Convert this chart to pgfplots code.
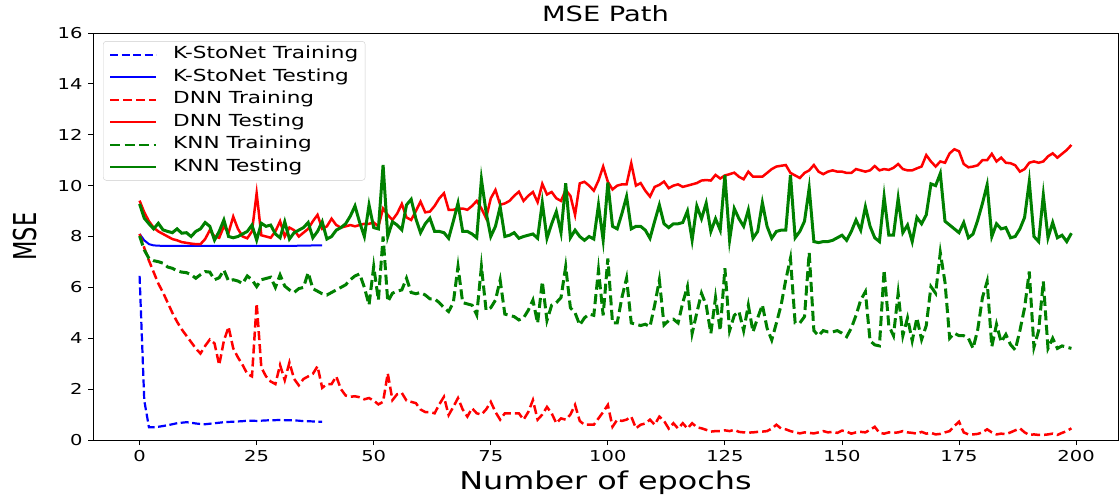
\documentclass[border=0pt]{standalone}
\usepackage{fontspec}
\setmainfont[FakeStretch=1.3]{DejaVu Sans}
\newfontfamily\plainfont{DejaVu Sans}
\usepackage{graphicx}
\usepackage{pgfplots}
\usepackage{pgfplotstable}
\pgfplotsset{compat=1.18}
\definecolor{mplgreen}{RGB}{0,128,0}

\pgfplotstableread{
ep ks kS
0 6.45 8.10
1 1.55 7.85
2 0.50 7.70
3 0.50 7.65
4 0.52 7.64
5 0.55 7.63
6 0.58 7.63
7 0.62 7.63
8 0.66 7.63
9 0.68 7.63
10 0.70 7.63
11 0.68 7.63
12 0.65 7.63
13 0.63 7.63
14 0.62 7.63
15 0.64 7.63
16 0.66 7.63
17 0.68 7.63
18 0.70 7.63
19 0.71 7.63
20 0.72 7.63
21 0.73 7.63
22 0.74 7.63
23 0.76 7.63
24 0.76 7.63
25 0.75 7.63
26 0.76 7.63
27 0.77 7.63
28 0.78 7.63
29 0.78 7.63
30 0.79 7.63
31 0.78 7.63
32 0.78 7.63
33 0.77 7.63
34 0.76 7.64
35 0.74 7.64
36 0.74 7.64
37 0.73 7.65
38 0.72 7.65
39 0.72 7.65
}\kstonet

\pgfplotstableread{
ep dt dT kt kT
0 8.10 9.41 8.02 9.28
1 7.55 8.95 7.47 8.72
2 7.05 8.60 7.14 8.50
3 6.60 8.35 7.05 8.30
4 6.15 8.20 7.01 8.52
5 5.80 8.10 6.95 8.26
6 5.40 8.00 6.80 8.20
7 5.00 7.90 6.75 8.15
8 4.65 7.85 6.65 8.30
9 4.35 7.78 6.60 8.13
10 4.10 7.75 6.58 8.15
11 3.85 7.72 6.50 8.00
12 3.60 7.70 6.36 8.20
13 3.40 7.70 6.50 8.30
14 3.70 7.90 6.62 8.55
15 3.95 8.25 6.60 8.40
16 3.80 8.00 6.30 7.86
17 2.95 7.95 6.38 8.20
18 3.90 8.40 6.68 8.65
19 4.45 8.15 6.25 8.00
20 3.60 8.78 6.30 7.95
21 3.25 8.30 6.25 8.00
22 2.95 8.00 6.15 8.10
23 2.60 7.93 6.45 8.20
24 2.50 8.20 6.30 8.45
25 5.37 9.70 6.03 7.86
26 2.85 8.05 6.30 8.52
27 2.50 8.00 6.35 8.40
28 2.30 7.95 6.40 8.45
29 2.20 8.20 6.00 8.10
30 2.95 8.60 6.49 7.95
31 2.35 8.00 6.05 8.58
32 3.05 8.35 5.90 7.90
33 2.40 8.25 5.80 8.15
34 2.15 8.00 5.95 8.25
35 2.40 8.15 6.00 8.35
36 2.50 8.30 6.58 8.55
37 2.60 8.60 5.95 7.95
38 2.90 8.85 5.85 8.20
39 2.05 8.30 5.75 8.58
40 2.20 8.40 5.70 7.90
41 2.20 8.70 5.80 8.00
42 2.50 8.45 5.90 8.25
43 2.00 8.35 6.00 8.35
44 1.75 8.40 6.10 8.50
45 1.70 8.45 6.30 8.80
46 1.72 8.40 6.45 9.20
47 1.68 8.45 6.53 8.55
48 1.60 8.50 6.00 8.00
49 1.65 8.50 5.31 9.24
50 1.55 8.55 6.82 8.35
51 1.40 8.40 5.50 8.30
52 1.50 9.10 8.00 10.81
53 2.62 8.85 5.44 8.00
54 1.57 8.65 5.77 8.58
55 1.80 8.90 5.85 8.45
56 1.85 9.28 5.90 8.26
57 1.55 8.75 6.36 9.24
58 1.50 8.65 5.80 9.46
59 1.45 9.00 5.75 8.70
60 1.20 9.37 5.80 8.15
61 1.10 8.95 5.70 8.50
62 1.10 8.98 5.55 8.72
63 1.05 9.20 5.55 8.20
64 1.40 9.50 5.40 8.20
65 1.70 9.70 5.20 8.15
66 0.98 9.05 5.05 7.93
67 1.30 9.05 5.40 8.60
68 1.65 9.10 6.82 9.31
69 1.20 9.10 5.40 8.20
70 0.92 9.05 5.35 8.20
71 1.25 9.20 5.30 8.10
72 1.05 9.40 4.92 7.95
73 1.00 9.10 6.82 10.25
74 1.20 8.72 5.10 8.95
75 1.50 9.50 5.20 8.00
76 1.10 9.83 5.50 8.40
77 0.80 9.25 6.29 9.17
78 1.05 9.30 4.95 8.00
79 1.05 9.40 4.90 8.05
80 1.05 9.60 4.85 8.15
81 1.05 9.76 4.72 7.93
82 0.80 9.40 4.80 8.00
83 1.10 9.60 5.10 8.05
84 1.57 9.75 5.50 8.10
85 0.80 9.35 4.59 7.93
86 1.00 10.07 6.23 9.33
87 1.30 9.65 4.70 7.93
88 1.05 9.75 5.30 8.50
89 0.66 9.50 5.40 8.98
90 0.85 9.40 5.60 8.15
91 0.80 9.83 6.82 10.09
92 1.00 9.60 5.20 7.95
93 1.38 8.85 5.00 8.25
94 0.75 10.09 4.52 8.00
95 0.60 10.15 4.80 7.85
96 0.60 10.00 4.95 8.00
97 0.60 9.80 4.90 7.90
98 0.85 10.20 6.68 9.24
99 1.10 10.75 4.90 7.86
100 1.38 10.15 7.14 10.12
101 0.52 9.85 4.60 8.40
102 0.80 10.00 4.60 8.30
103 0.75 10.05 5.60 8.90
104 0.80 10.05 6.36 9.57
105 0.92 10.88 4.60 8.30
106 0.46 10.00 4.55 8.40
107 0.60 10.10 4.50 8.40
108 0.65 9.80 4.55 8.25
109 0.80 9.57 4.46 7.93
110 0.60 9.95 5.30 8.60
111 0.92 10.03 6.29 9.24
112 0.75 10.16 4.52 8.50
113 0.45 9.90 4.70 8.35
114 0.66 10.00 4.75 8.50
115 0.45 10.05 4.60 8.50
116 0.66 9.95 5.40 8.55
117 0.45 10.00 6.03 9.00
118 0.66 10.05 4.19 7.86
119 0.50 10.10 5.00 9.20
120 0.46 10.20 5.77 8.70
121 0.40 10.22 5.30 9.31
122 0.33 10.20 4.19 8.20
123 0.35 10.42 5.60 8.70
124 0.35 10.28 4.30 8.25
125 0.38 10.40 6.75 10.42
126 0.35 10.45 4.30 7.86
127 0.40 10.51 4.90 9.10
128 0.32 10.35 5.05 8.70
129 0.30 10.25 4.30 8.40
130 0.29 10.55 5.30 9.04
131 0.30 10.35 4.25 7.93
132 0.32 10.35 4.80 8.20
133 0.33 10.35 5.31 9.33
134 0.35 10.50 4.40 8.40
135 0.45 10.65 3.93 7.93
136 0.60 10.75 4.60 8.20
137 0.45 10.78 5.30 8.25
138 0.42 10.81 6.30 8.25
139 0.35 10.50 7.14 10.42
140 0.30 10.40 4.60 7.95
141 0.26 10.30 4.60 8.20
142 0.30 10.50 4.85 8.60
143 0.28 10.60 7.37 9.90
144 0.26 10.81 4.30 7.80
145 0.30 10.55 4.10 7.76
146 0.35 10.45 4.30 7.80
147 0.30 10.55 4.25 7.80
148 0.32 10.60 4.25 7.85
149 0.28 10.55 4.30 7.95
150 0.37 10.55 4.20 8.05
151 0.33 10.50 4.06 7.85
152 0.25 10.50 4.40 8.20
153 0.30 10.65 4.90 8.65
154 0.32 10.60 5.50 8.25
155 0.30 10.55 5.83 9.17
156 0.40 10.60 3.90 8.40
157 0.52 10.77 3.74 7.95
158 0.28 10.60 3.70 7.80
159 0.25 10.65 6.68 9.57
160 0.30 10.62 4.50 8.05
161 0.28 10.70 4.10 8.05
162 0.30 10.85 5.77 9.50
163 0.35 10.65 4.10 8.15
164 0.30 10.60 4.80 8.45
165 0.28 10.60 3.90 7.80
166 0.25 10.68 4.80 8.75
167 0.32 10.75 3.95 8.50
168 0.25 11.20 4.50 8.85
169 0.28 10.95 6.03 10.07
170 0.22 10.75 5.77 10.00
171 0.24 10.95 7.37 10.48
172 0.30 10.90 6.20 8.60
173 0.35 11.27 4.00 8.45
174 0.55 11.43 4.20 8.30
175 0.72 11.35 4.10 8.15
176 0.30 10.85 4.10 8.55
177 0.22 10.72 4.00 7.95
178 0.22 10.75 3.60 8.10
179 0.24 10.80 4.35 8.65
180 0.30 11.00 5.60 9.30
181 0.42 11.00 6.23 10.03
182 0.30 11.25 3.67 8.00
183 0.22 10.95 4.55 8.50
184 0.25 11.10 3.85 8.30
185 0.23 10.90 4.15 8.35
186 0.30 10.88 3.75 7.95
187 0.38 10.80 3.54 8.00
188 0.46 10.55 4.30 8.30
189 0.30 10.65 5.20 8.75
190 0.20 10.90 6.62 10.16
191 0.22 10.95 3.65 8.00
192 0.20 10.90 4.30 7.80
193 0.20 10.95 6.23 9.63
194 0.22 11.15 3.60 7.95
195 0.25 11.27 4.00 8.55
196 0.20 11.10 3.60 7.95
197 0.28 11.25 3.70 8.05
198 0.35 11.40 3.65 7.80
199 0.46 11.60 3.60 8.13
}\others

\begin{document}
\begin{tikzpicture}
\begin{axis}[
  scale only axis,
  width=1025pt, height=407pt,
  xmin=-9.95, xmax=208.95, ymin=0, ymax=16,
  xtick={0,25,...,200}, ytick={0,2,...,16},
  tick pos=left, tick align=outside,
  major tick length=5pt,
  every tick/.style={black, line width=0.9pt},
  axis line style={line width=0.9pt},
  /pgf/number format/assume math mode=true,
  tick label style={font=\fontsize{15}{18}\selectfont},
  yticklabel style={xshift=-2pt},
  xticklabel style={yshift=-2pt},
  title={MSE Path},
  title style={font=\fontsize{21}{25}\selectfont, at={(axis description cs:0.5,1.032)}, anchor=center},
  xlabel={Number of epochs},
  xlabel style={font=\fontsize{24.5}{29}\selectfont, at={(axis description cs:0.5,-0.105)}, anchor=center},
  ylabel={\scalebox{1}[1.4]{\plainfont\fontsize{22.5}{26}\selectfont MSE}},
  ylabel style={at={(axis description cs:-0.066,0.5)}, anchor=center, rotate=0},
  legend style={at={(axis description cs:0.0098,0.980)}, anchor=north west,
    draw=black!20, rounded corners=3pt, fill=white, fill opacity=0.8, text opacity=1,
    font=\fontsize{16.6}{19}\selectfont, inner xsep=6pt, inner ysep=4.5pt,
    row sep=5pt,
    /tikz/every odd column/.append style={column sep=15pt},
    nodes={inner sep=1pt, text height=12pt, text depth=3.5pt}},
  legend cell align=left,
  legend image code/.code={\draw[#1, line width=2pt] (0pt,0pt) -- (46pt,0pt);},
]
\addplot[blue, line width=2.2pt, dash pattern=on 8pt off 3.5pt] table[x=ep,y=ks] {\kstonet};
\addlegendentry{K-StoNet Training}
\addplot[blue, line width=2pt] table[x=ep,y=kS] {\kstonet};
\addlegendentry{K-StoNet Testing}
\addplot[red, line width=2.5pt, dash pattern=on 9pt off 4pt] table[x=ep,y=dt] {\others};
\addlegendentry{DNN Training}
\addplot[red, line width=2.5pt] table[x=ep,y=dT] {\others};
\addlegendentry{DNN Testing}
\addplot[mplgreen, line width=3pt, dash pattern=on 10pt off 4.5pt] table[x=ep,y=kt] {\others};
\addlegendentry{KNN Training}
\addplot[mplgreen, line width=3pt] table[x=ep,y=kT] {\others};
\addlegendentry{KNN Testing}
\end{axis}
\pgfresetboundingbox
\path[use as bounding box] ([shift={(-93pt,-59pt)}]current axis.south west) rectangle ([shift={(1pt,33pt)}]current axis.north east);
\end{tikzpicture}
\end{document}
